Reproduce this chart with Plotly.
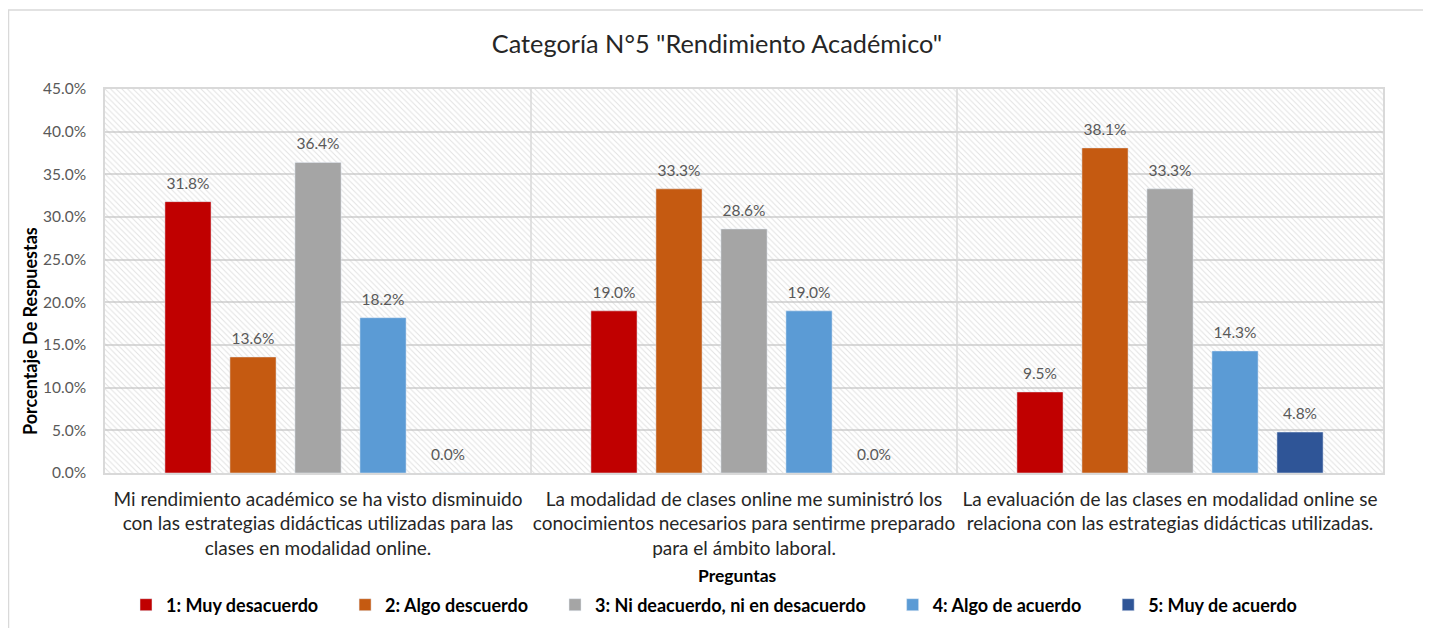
import plotly.graph_objects as go

categories = [
    "Mi rendimiento académico se ha visto disminuido<br>con las estrategias didácticas utilizadas para las<br>clases en modalidad online.",
    "La modalidad de clases online me suministró los<br>conocimientos necesarios para sentirme preparado<br>para el ámbito laboral.",
    "La evaluación de las clases en modalidad online se<br>relaciona con las estrategias didácticas utilizadas.",
]
series_names = [
    "1: Muy desacuerdo",
    "2: Algo descuerdo",
    "3: Ni deacuerdo, ni en desacuerdo",
    "4: Algo de acuerdo",
    "5: Muy de acuerdo",
]
series_values = [
    [0.318, 0.190, 0.095],
    [0.136, 0.333, 0.381],
    [0.364, 0.286, 0.333],
    [0.182, 0.190, 0.143],
    [0.000, 0.000, 0.048],
]
colors = ["#C00000", "#C55A11", "#A5A5A5", "#5B9BD5", "#2F5597"]
y_max = 0.45

FONT = "Lato"
PAD = "\u00a0" * 5

fig = go.Figure()

# hatched plot background
fig.add_trace(go.Bar(
    x=categories, y=[y_max] * len(categories), width=1, offset=-0.5,
    marker=dict(color="rgba(0,0,0,0)", line=dict(width=0),
                pattern=dict(shape="\\", fgcolor="#C4C4C4", size=4, solidity=0.25)),
    hoverinfo="skip", showlegend=False, textposition="none",
))

n = len(series_names)
for i, (name, vals, c) in enumerate(zip(series_names, series_values, colors)):
    fig.add_trace(go.Bar(
        x=categories, y=vals, name=name + (PAD if i < n - 1 else ""),
        marker=dict(color=c),
        texttemplate="<span style='font-size:15.5px'>%{y:.1%}</span><br>\u00a0",
        textposition="outside", constraintext="none",
        textfont=dict(family=FONT, size=7, color="#595959"),
        cliponaxis=False,
    ))

# page offset (body margin) in the screenshot
OX, OY = 8, 8
W, H = 1431, 628
L = 105 - OX
T = 89 - OY
R = W - (1383 - OX)
B = H - (473 - OY)
pw, ph = W - L - R, H - T - B

def px_x(xs):
    return (xs - OX - L) / pw

def px_y(ys):
    return (H - B - (ys - OY)) / ph

shapes = []
for xs in [0.5, 1.5]:
    shapes.append(dict(type="line", xref="x", yref="paper", x0=xs, x1=xs, y0=0, y1=1,
                       line=dict(color="#D9D9D9", width=1.5), layer="above"))
shapes.append(dict(type="rect", xref="paper", yref="paper",
                   x0=px_x(8.5), x1=px_x(1425), y0=px_y(700), y1=px_y(10),
                   line=dict(color="#D9D9D9", width=1.5), fillcolor="rgba(0,0,0,0)", layer="below"))

annotations = [
    dict(text="Porcentaje De Respuestas", xref="paper", yref="paper", x=px_x(30), y=px_y(331),
         textangle=-90, showarrow=False, xanchor="center", yanchor="middle",
         font=dict(family=FONT, size=18, color="#000000", weight="bold")),
    dict(text="Preguntas", xref="paper", yref="paper", x=px_x(737), y=px_y(575),
         showarrow=False, xanchor="center", yanchor="middle",
         font=dict(family=FONT, size=17.5, color="#000000", weight="bold")),
]

fig.update_layout(
    width=W, height=H,
    margin=dict(l=L, r=R, t=T, b=B, autoexpand=False),
    paper_bgcolor="white", plot_bgcolor="white",
    barmode="group", bargap=0.237, bargroupgap=0.29,
    font=dict(family=FONT, color="#404040"),
    title=dict(text='Categoría N°5 "Rendimiento Académico"', x=px_x(717), xanchor="center",
               xref="paper", y=1 - (44 - OY) / H, yanchor="middle",
               font=dict(family=FONT, size=25.3, color="#262626")),
    shapes=shapes,
    annotations=annotations,
    legend=dict(orientation="h", x=px_x(714), xanchor="center", y=px_y(605), yanchor="middle",
                font=dict(family=FONT, size=18, color="#000000", weight="bold"),
                itemwidth=30, traceorder="normal"),
)
fig.update_yaxes(
    range=[0, y_max], tickformat=".1%", dtick=0.05,
    showgrid=True, gridcolor="#D9D9D9", gridwidth=1.5,
    showline=True, linecolor="#D9D9D9", linewidth=1.5, mirror=True,
    zeroline=False, automargin=False,
    tickfont=dict(family=FONT, size=15.5, color="#595959"),
    ticklabelstandoff=14,
)
fig.update_xaxes(
    showline=True, linecolor="#D9D9D9", linewidth=1.5, mirror=True,
    automargin=False,
    tickfont=dict(family=FONT, size=19, color="#262626"),
    ticklabelstandoff=8,
)

fig.write_html("out.html")
